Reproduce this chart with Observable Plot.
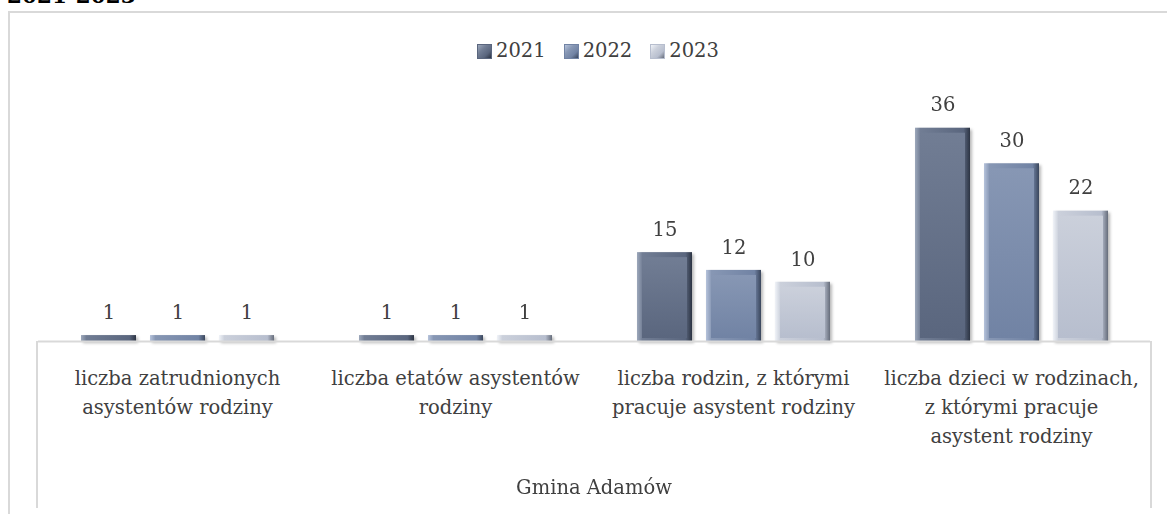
<!DOCTYPE html>
<html><head><meta charset="utf-8">
<script src="https://cdn.jsdelivr.net/npm/d3@7"></script>
<script src="https://cdn.jsdelivr.net/npm/@observablehq/plot@0.6"></script>
<style>
html,body{margin:0;padding:0;background:#fff;}
body{width:1167px;height:514px;overflow:hidden;position:relative;font-family:"DejaVu Serif",serif;color:#404040;}
#title{position:absolute;left:7px;top:-15px;font-weight:bold;font-size:21.5px;line-height:1;color:#000;white-space:nowrap;}
#frame{position:absolute;left:8px;top:11px;width:1200px;height:600px;border-left:2px solid #d9d9d9;border-top:2px solid #d9d9d9;}
#legend{position:absolute;left:477px;top:39px;height:24px;display:flex;align-items:center;gap:18px;font-size:19.5px;line-height:24px;}
.item{display:flex;align-items:center;gap:4px;}
.sw{width:15px;height:15px;box-sizing:border-box;}
#chart{position:absolute;left:0;top:70px;}
#group{position:absolute;left:36px;top:341px;width:1112px;height:167px;border-left:2px solid #d9d9d9;border-right:2px solid #d9d9d9;}
#group span{position:absolute;left:0;right:0;top:135px;line-height:24px;text-align:center;font-size:19.5px;}
</style>
</head><body>
<div id="title"></div>
<div id="frame"></div>
<div id="legend"></div>
<div id="chart"></div>
<div id="group"><span></span></div>
<svg width="0" height="0" style="position:absolute"><defs id="gdefs"></defs></svg>
<script>
// ---- data ----
const titleText = "2021-2023";
const categories = [
  "liczba zatrudnionych asystentów rodziny",
  "liczba etatów asystentów rodziny",
  "liczba rodzin, z którymi pracuje asystent rodziny",
  "liczba dzieci w rodzinach, z którymi pracuje asystent rodziny"
];
const categoryLabels = [
  "liczba zatrudnionych\nasystentów rodziny",
  "liczba etatów asystentów\nrodziny",
  "liczba rodzin, z którymi\npracuje asystent rodziny",
  "liczba dzieci w rodzinach,\nz którymi pracuje\nasystent rodziny"
];
const years = ["2021", "2022", "2023"];
const values2021 = [1, 1, 15, 36];
const values2022 = [1, 1, 12, 30];
const values2023 = [1, 1, 10, 22];
const groupLabel = "Gmina Adamów";
const yMax = 40;

// ---- styles (per year: light edge, face top, face bottom, dark edge) ----
const palette = {
  "2021": ["#9da8bb", "#717d94", "#5a667e", "#2c3443"],
  "2022": ["#b6c3db", "#8797b4", "#7183a4", "#3a465c"],
  "2023": ["#f0f3f8", "#cbd0db", "#b7bece", "#666d7b"]
};

const seriesValues = [values2021, values2022, values2023];
const data = years.flatMap((y, j) => categories.map((c, i) => ({category: c, year: y, value: seriesValues[j][i]})));

// gradients
const defs = d3.select("#gdefs");
for (const y of years) {
  const [light, top, bottom, dark] = palette[y];
  const e = defs.append("linearGradient").attr("id", "edge" + y).attr("x1", 0).attr("y1", 0).attr("x2", 1).attr("y2", 0);
  e.append("stop").attr("offset", "0%").attr("stop-color", light);
  e.append("stop").attr("offset", "10%").attr("stop-color", top);
  e.append("stop").attr("offset", "88%").attr("stop-color", bottom);
  e.append("stop").attr("offset", "100%").attr("stop-color", dark);
  const f = defs.append("linearGradient").attr("id", "face" + y).attr("x1", 0).attr("y1", 0).attr("x2", 0).attr("y2", 1);
  f.append("stop").attr("offset", "0%").attr("stop-color", top);
  f.append("stop").attr("offset", "100%").attr("stop-color", bottom);
}

document.getElementById("title").textContent = titleText;
document.querySelector("#group span").textContent = groupLabel;

// legend
const legend = d3.select("#legend");
for (const y of years) {
  const [light, top, bottom, dark] = palette[y];
  const it = legend.append("div").attr("class", "item");
  it.append("div").attr("class", "sw")
    .style("background", `linear-gradient(135deg, ${light} 0%, ${top} 35%, ${bottom} 70%, ${dark} 100%)`)
    .style("border", `1px solid ${bottom}`);
  it.append("span").text(y);
}

const bars = years.flatMap(y => [
  Plot.barY(data.filter(d => d.year === y), {fx: "category", x: "year", y: "value", fill: `url(#edge${y})`}),
  Plot.barY(data.filter(d => d.year === y && d.value > 2), {fx: "category", x: "year", y: "value", fill: `url(#face${y})`, insetLeft: 5, insetRight: 5, insetTop: 5, insetBottom: 3})
]);

const chart = Plot.plot({
  width: 1167, height: 444,
  marginLeft: 37, marginRight: 16, marginTop: 34, marginBottom: 173,
  style: {fontFamily: '"DejaVu Serif", serif', fontSize: "19.5px", color: "#404040", background: "transparent", overflow: "visible"},
  fx: {domain: categories, padding: 0, label: null},
  x: {domain: years, paddingInner: 0.21, paddingOuter: 0.6, axis: null},
  y: {domain: [0, yMax], axis: null},
  marks: [
    ...bars,
    Plot.ruleY([0], {stroke: "#d9d9d9", strokeWidth: 2}),
    Plot.text(data, {fx: "category", x: "year", y: "value", text: d => String(d.value), dy: -23, fill: "#404040", fontSize: 19.5}),
    Plot.axisFx({anchor: "bottom", tickSize: 0, tickPadding: 23, fontSize: 19.5, lineHeight: 1.49,
      tickFormat: d => categoryLabels[categories.indexOf(d)], label: null})
  ]
});
document.getElementById("chart").appendChild(chart);
d3.select(chart).selectAll('g[aria-label="bar"]').filter((d, i) => i % 2 === 0)
  .style("filter", "drop-shadow(2px 2px 1.5px rgba(0,0,0,0.28))");
</script>
</body></html>
